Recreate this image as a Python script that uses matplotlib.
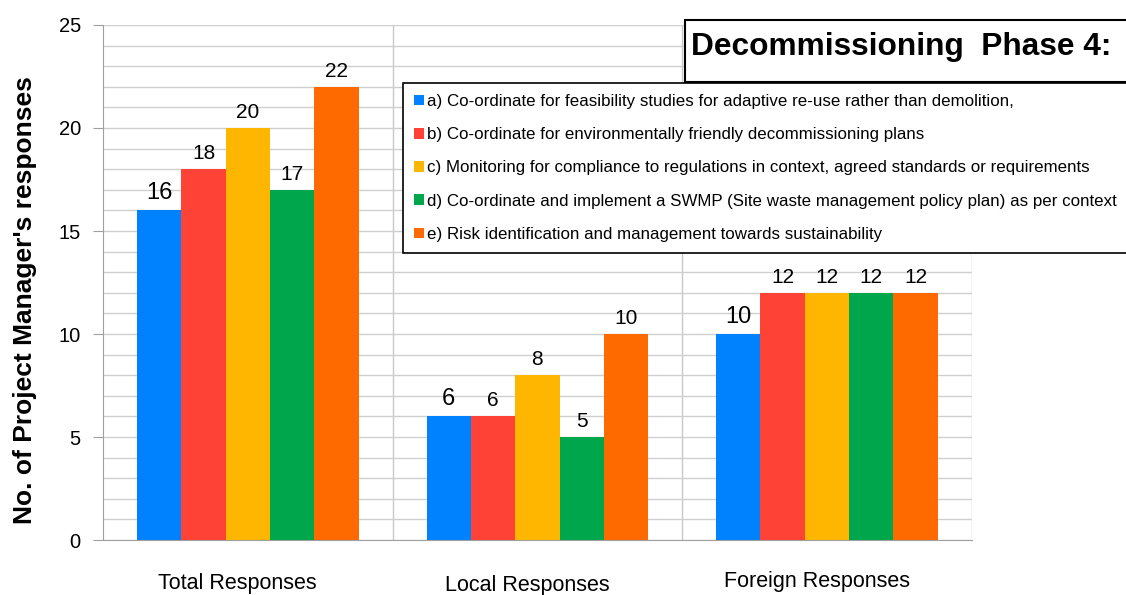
import matplotlib.pyplot as plt
from matplotlib.patches import Rectangle
import numpy as np

categories = ["Total Responses", "Local Responses", "Foreign Responses"]
series_labels = [
    "a) Co-ordinate for feasibility studies for adaptive re-use rather than demolition,",
    "b) Co-ordinate for environmentally friendly decommissioning plans",
    "c) Monitoring for compliance to regulations in context, agreed standards or requirements",
    "d) Co-ordinate and implement a SWMP (Site waste management policy plan) as per context",
    "e) Risk identification and management towards sustainability",
]
values = [
    [16, 6, 10],
    [18, 6, 12],
    [20, 8, 12],
    [17, 5, 12],
    [22, 10, 12],
]
colors = ["#0082FF", "#FF4136", "#FFB600", "#00A64B", "#FF6A00"]

arial = ["Liberation Sans", "DejaVu Sans"]

fig = plt.figure(figsize=(11.26, 5.95), dpi=100)
ax = fig.add_axes([0.0915, 0.0924, 0.7715, 0.8656])

x = np.arange(len(categories))
bw = 0.153
for k, vals in enumerate(values):
    pos = x + (k - 2) * bw
    bars = ax.bar(pos, vals, bw, color=colors[k], label=series_labels[k], zorder=3)
    for b, v in zip(bars, vals):
        fs = 17 if k == 0 else 15
        ax.text(b.get_x() + b.get_width() / 2, v + 0.3, str(v), ha="center", va="bottom",
                fontsize=fs, family=arial, zorder=4)

ax.set_xlim(-0.5, 2.5)
ax.set_ylim(0, 25)
ax.set_yticks(range(0, 26, 5))
ax.set_yticks(range(0, 26), minor=True)
ax.yaxis.grid(True, which="both", color="#cfcfcf", linewidth=1, zorder=0)
for xv in [0.5, 1.5, 2.5]:
    ax.axvline(xv, color="#c8c8c8", linewidth=1, zorder=0)
ax.set_xticks([])
for s in ["top", "right"]:
    ax.spines[s].set_visible(False)
ax.spines["left"].set_color("#a0a0a0")
ax.spines["bottom"].set_color("#a0a0a0")
ax.tick_params(axis="y", which="major", length=7, color="#a0a0a0", labelsize=14.5, pad=9)
ax.tick_params(axis="y", which="minor", length=0)
for t in ax.get_yticklabels():
    t.set_family(arial)

label_y = [-2.1, -2.2, -2.0]
for xi, name, ly in zip(x, categories, label_y):
    ax.text(xi - 0.035, ly, name, ha="center", va="center", fontsize=15.5, family=arial)

ax.set_ylabel("No. of Project Manager's responses", fontsize=19, fontweight="bold",
              family=arial)
ax.yaxis.set_label_coords(-0.076, 0.466)

# title box (runs off the right edge)
fig.patches.append(Rectangle((685 / 1126, 1 - 82 / 595), 0.5, 62 / 595,
                             transform=fig.transFigure, facecolor="white",
                             edgecolor="black", linewidth=1.5, zorder=5))
fig.text(691 / 1126, 1 - 47 / 595, "Decommissioning  Phase 4:", fontsize=22.8,
         fontweight="bold", family=arial, va="center", ha="left", zorder=6)

leg = ax.legend(loc="upper left", bbox_to_anchor=(403 / 1126, 1 - 83 / 595),
                bbox_transform=fig.transFigure, prop={"family": arial, "size": 12.15},
                handlelength=0.6, handleheight=0.6, handletextpad=0.2,
                labelspacing=1.08, borderpad=0.65, borderaxespad=0,
                fancybox=False, edgecolor="black", framealpha=1)
leg.get_frame().set_linewidth(1.2)
leg.set_zorder(6)

fig.savefig("out.png", dpi=100)
